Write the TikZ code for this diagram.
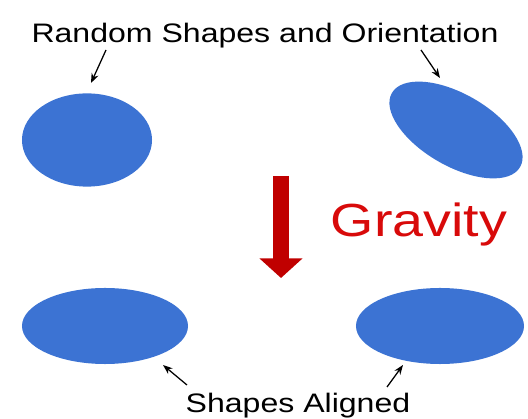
\documentclass[tikz,border=0pt]{standalone}
\usepackage{fontspec}
\setmainfont{Liberation Sans}
\newfontfamily\wideface[FakeStretch=1.2]{Liberation Sans}
\usetikzlibrary{arrows.meta,positioning,shapes.geometric}
\definecolor{cBlob}{HTML}{3C73D3}
\definecolor{cDrop}{HTML}{C00000}
\definecolor{cGrav}{HTML}{D80A0A}
\tikzset{
  blob/.style={ellipse, fill=cBlob, draw=none, inner sep=0pt},
  pointer/.style={-{Stealth[length=2.4mm,width=1.8mm]}, line width=0.9pt, draw=black},
  drop/.style={-{Triangle[length=14pt,width=30pt]}, line width=12pt, draw=cDrop},
  lbl/.style={font=\wideface\fontsize{19}{22}\selectfont, anchor=base, inner sep=0pt},
}
\begin{document}
\begin{tikzpicture}[x=0.025cm,y=-0.025cm]
  \useasboundingbox (0,0) rectangle (528,419);
  % texts
  \node[lbl] (rand) at (265,43) {Random Shapes and Orientation};
  \node[lbl] (align) at (298,413) {Shapes Aligned};
  \node[lbl, text=cGrav, font=\wideface\fontsize{33}{38}\selectfont] (grav) at (419,237) {Gravity};
  % shapes before
  \node[blob, minimum width=3.25cm, minimum height=2.33cm] (tl) at (87,140) {};
  \node[blob, minimum width=3.7cm, minimum height=1.8cm, rotate=-30] (tr) at (456,130) {};
  % shapes after
  \node[blob, minimum width=4.15cm, minimum height=1.9cm] (bl) at (105,326) {};
  \node[blob, minimum width=4.2cm, minimum height=1.9cm] (br) at (440,326) {};
  % pointers
  \coordinate (p1) at (106,50);  \coordinate (q1) at (91,83);
  \coordinate (p2) at (421,50);  \coordinate (q2) at (440,78);
  \coordinate (p3) at (187,385); \coordinate (q3) at (163,365);
  \coordinate (p4) at (387,387); \coordinate (q4) at (403,365);
  \draw[pointer] (p1) -- (q1);
  \draw[pointer] (p2) -- (q2);
  \draw[pointer] (p3) -- (q3);
  \draw[pointer] (p4) -- (q4);
  % gravity arrow
  \coordinate (g1) at (281,176);
  \coordinate (g2) at (281,278);
  \draw[drop] (g1) -- (g2);
\end{tikzpicture}
\end{document}
